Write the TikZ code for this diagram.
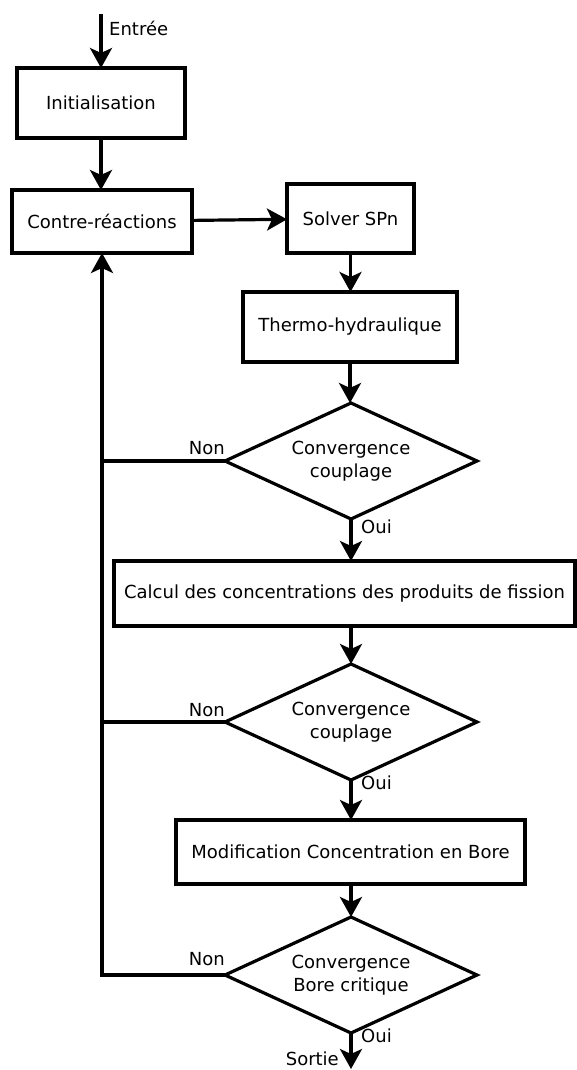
\documentclass[tikz,border=0pt]{standalone}
\usepackage{fontspec}
\setmainfont{DejaVu Sans}
\usetikzlibrary{shapes.geometric,arrows.meta,calc}
\begin{document}
\begin{tikzpicture}[x=1pt,y=-1pt,
  every node/.style={font=\fontsize{18}{23}\selectfont},
  box/.style={draw,line width=3.2pt,rectangle,inner sep=0pt,outer sep=0pt,align=center},
  decision/.style={draw,line width=3.2pt,diamond,aspect=2.17,minimum width=252pt,minimum height=116pt,inner sep=0pt,outer sep=0pt,align=center},
  arr/.style={line width=3.2pt,-{Stealth[length=20pt,width=22pt,inset=5pt]}},
  ln/.style={line width=3.2pt},
  lbl/.style={inner sep=0pt}]
\useasboundingbox (0,0) rectangle (577,1070);
\coordinate (in) at (101,14);
\coordinate (out) at (351,1069);
\node[box,minimum width=168pt,minimum height=70pt] (init) at (101,103) {Initialisation};
\node[box,minimum width=180pt,minimum height=63pt] (contre) at (102,221.5) {Contre-réactions};
\node[box,minimum width=127pt,minimum height=69pt] (solver) at (350.5,218.5) {Solver SPn};
\node[box,minimum width=214pt,minimum height=70pt] (thermo) at (350,327) {Thermo-hydraulique};
\node[decision] (d1) at (351,461) {Convergence\\couplage};
\node[box,minimum width=461pt,minimum height=65pt] (calc) at (344.5,593.5) {Calcul des concentrations des produits de fission};
\node[decision] (d2) at (351,722) {Convergence\\couplage};
\node[box,minimum width=349pt,minimum height=64pt] (mod) at (350.5,852) {Modification Concentration en Bore};
\node[decision] (d3) at (351,975) {Convergence\\Bore critique};
% labels
\node[lbl,anchor=west] (le) at (109,28) {Entrée};
\node[lbl,anchor=east] (n1) at ($(d1.west)+(0,-13)$) {Non};
\node[lbl,anchor=east] (n2) at ($(d2.west)+(0,-12)$) {Non};
\node[lbl,anchor=east] (n3) at ($(d3.west)+(0,-16)$) {Non};
\node[lbl,anchor=west] (o1) at ($(d1.south)+(10,8)$) {Oui};
\node[lbl,anchor=west] (o2) at ($(d2.south)+(10,3)$) {Oui};
\node[lbl,anchor=west] (o3) at ($(d3.south)+(10,3)$) {Oui};
\node[lbl,anchor=east] (ls) at (339,1059) {Sortie};
% connectors
\draw[arr] (in) -- (init.north);
\draw[arr] (init.south) -- (init.south |- contre.north);
\draw[arr] (contre) -- (solver);
\draw[arr] (solver.south) -- (solver.south |- thermo.north);
\draw[arr] (thermo.south) -- (thermo.south |- d1.north);
\draw[arr] (d1.south) -- (calc.north -| d1.south);
\draw[arr] (calc.south -| d2.north) -- (d2.north);
\draw[arr] (d2.south) -- (mod.north -| d2.south);
\draw[arr] (mod.south -| d3.north) -- (d3.north);
\draw[arr] (d3.south) -- (out);
\draw[arr] (d3.west) -| (contre.south);
\draw[ln] (d1.west) -- (d1.west -| contre.south);
\draw[ln] (d2.west) -- (d2.west -| contre.south);
\end{tikzpicture}
\end{document}
